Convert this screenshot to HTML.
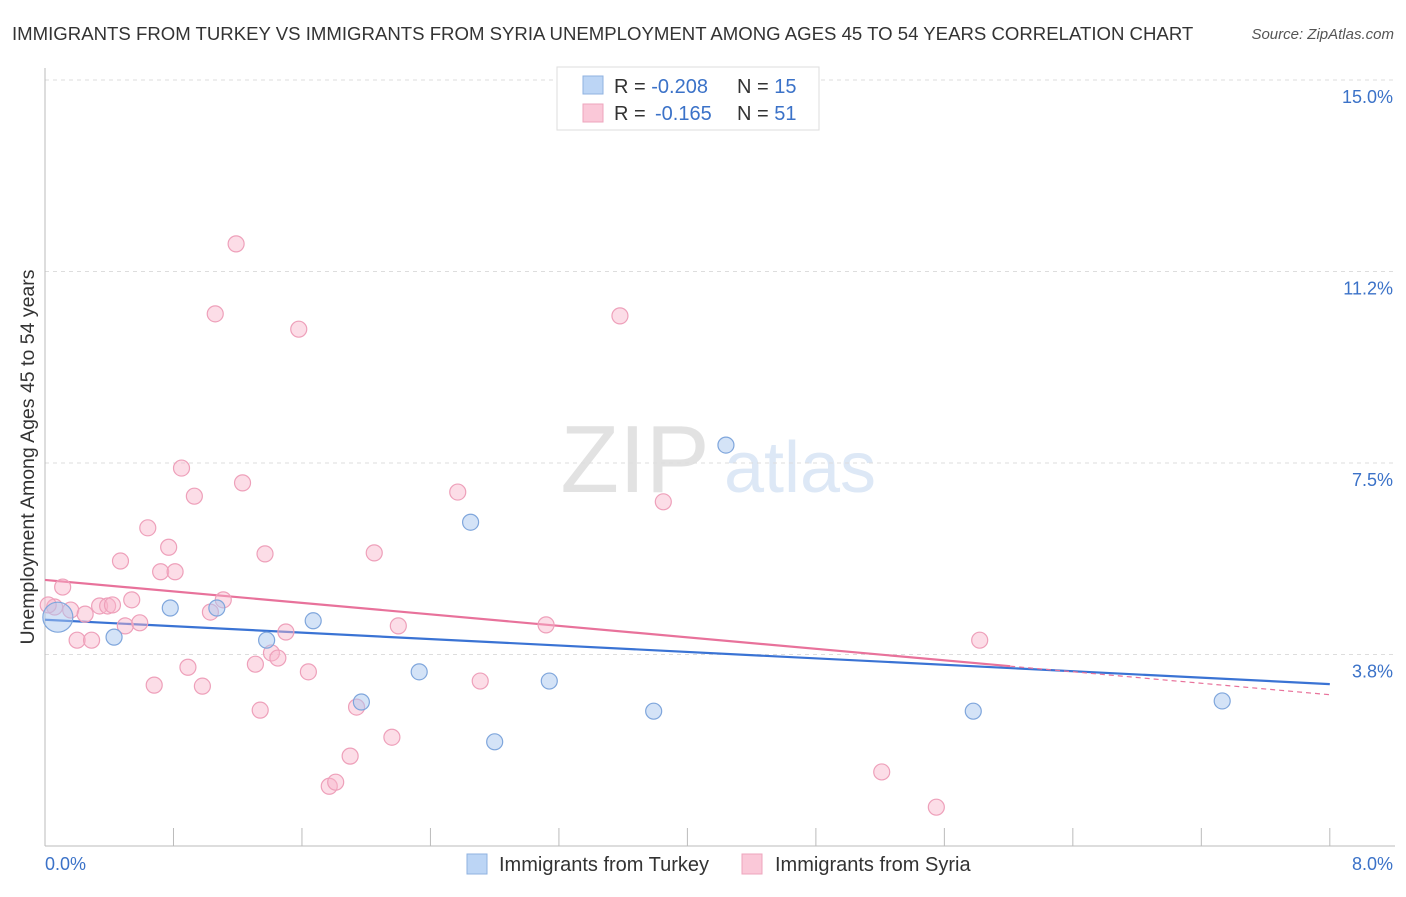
<!DOCTYPE html>
<html><head><meta charset="utf-8"><style>
body{margin:0;background:#fff;font-family:"Liberation Sans",sans-serif}
svg text{font-family:"Liberation Sans",sans-serif}
</style></head><body>
<svg id="c" width="1406" height="892">
<text x="12" y="40" font-size="18.6" fill="#333">IMMIGRANTS FROM TURKEY VS IMMIGRANTS FROM SYRIA UNEMPLOYMENT AMONG AGES 45 TO 54 YEARS CORRELATION CHART</text>
<text x="1394" y="39" font-size="15" fill="#555" font-style="italic" text-anchor="end">Source: ZipAtlas.com</text>
<text x="34" y="457" font-size="19.5" fill="#333" text-anchor="middle" transform="rotate(-90 34 457)">Unemployment Among Ages 45 to 54 years</text>
<g><text x="635" y="492" font-size="96" fill="#e2e2e2" font-family="Liberation Serif" text-anchor="middle">ZIP</text><text x="800" y="492" font-size="72" fill="#dde8f6" text-anchor="middle">atlas</text></g>
<g id="grid"></g><g id="axes"></g><g id="lines"></g><g id="pts"></g>
<g>
<rect x="557" y="67" width="262" height="63" fill="#fff" stroke="#ddd"/>
<rect x="583" y="76" width="20" height="18" fill="#bcd5f5" stroke="#8fb2e0"/>
<rect x="583" y="104" width="20" height="18" fill="#fac8d8" stroke="#eea5bd"/>
<text x="614" y="93" font-size="20" fill="#333">R = <tspan fill="#3b72c8">-0.208</tspan><tspan x="737">N = </tspan><tspan fill="#3b72c8">15</tspan></text>
<text x="614" y="120" font-size="20" fill="#333">R = <tspan x="655" fill="#3b72c8">-0.165</tspan><tspan x="737">N = </tspan><tspan fill="#3b72c8">51</tspan></text>
</g>
<g>
<rect x="467" y="854" width="20" height="20" fill="#bcd5f5" stroke="#8fb2e0"/>
<text x="499" y="871" font-size="20" fill="#333">Immigrants from Turkey</text>
<rect x="742" y="854" width="20" height="20" fill="#fac8d8" stroke="#eea5bd"/>
<text x="775" y="871" font-size="20" fill="#333">Immigrants from Syria</text>
</g>
</svg>
<script>
const yTicks=[15.0,11.25,7.5,3.75];
const yTickLabels=["15.0%","11.2%","7.5%","3.8%"];
const xTickLabels=["0.0%","8.0%"];
const turkeyX=[0.08,0.43,0.78,1.07,1.38,1.67,1.97,2.33,2.65,2.80,3.14,3.79,4.24,5.78,7.33];
const turkeyY=[4.48,4.09,4.66,4.66,4.03,4.41,2.82,3.41,6.34,2.04,3.23,2.64,7.85,2.64,2.84];
const syriaX=[0.06,0.11,0.16,0.20,0.25,0.29,0.34,0.39,0.42,0.47,0.50,0.54,0.59,0.64,0.68,0.72,0.77,0.81,0.85,0.89,0.93,0.98,1.03,1.06,1.11,1.19,1.23,1.31,1.34,1.37,1.41,1.45,1.50,1.58,1.64,1.77,1.81,1.90,1.94,2.05,2.16,2.20,2.57,2.71,3.12,3.58,3.85,5.21,5.55,5.82,0.02];
const syriaY=[4.68,5.07,4.62,4.03,4.54,4.03,4.70,4.70,4.72,5.58,4.31,4.82,4.37,6.23,3.15,5.37,5.85,5.37,7.40,3.50,6.85,3.13,4.58,10.42,4.82,11.79,7.11,3.56,2.66,5.72,3.78,3.68,4.19,10.12,3.41,1.17,1.25,1.76,2.72,5.74,2.13,4.31,6.93,3.23,4.33,10.38,6.74,1.45,0.76,4.03,4.72];
const turkeyTrend=[4.43,-0.1575];
const syriaTrend=[5.21,-0.281];
const NS="http://www.w3.org/2000/svg";
const X=v=>45+v*160.6, Y=v=>846-v*51.07;
function mk(p,t,a){const e=document.createElementNS(NS,t);for(const k in a)e.setAttribute(k,a[k]);document.getElementById(p).appendChild(e);return e;}
yTicks.forEach((t,i)=>{
 const g=mk('grid','line',{x1:45,x2:1395,y1:Y(t),y2:Y(t),stroke:'#ddd','stroke-dasharray':'4,4'});
 
 
 const l=mk('grid','text',{x:1393,y:Y(t)+23,'font-size':18,fill:'#3b72c8','text-anchor':'end'});
 l.textContent=yTickLabels[i];
 
 
});
const ax=mk('axes','line',{x1:45,x2:45,y1:68,y2:846,stroke:'#bbb'});


const bx=mk('axes','line',{x1:45,x2:1395,y1:846,y2:846,stroke:'#bbb'});


for(let i=1;i<=10;i++){const t=mk('axes','line',{x1:X(i*0.8),x2:X(i*0.8),y1:828,y2:846,stroke:'#bbb'});
 
 }
[[0,'start',45],[8,'end',1393]].forEach((d,i)=>{const t=mk('axes','text',{x:d[2],y:870,'font-size':18,fill:'#3b72c8','text-anchor':d[1]});t.textContent=xTickLabels[i];
 
 });
const f=(tr,v)=>tr[0]+tr[1]*v;
let l1=mk('lines','line',{x1:X(0),y1:Y(f(turkeyTrend,0)),x2:X(8),y2:Y(f(turkeyTrend,8)),stroke:'#3a73d4','stroke-width':2.2});


let l2=mk('lines','line',{x1:X(0),y1:Y(f(syriaTrend,0)),x2:X(6.01),y2:Y(f(syriaTrend,6.01)),stroke:'#e8729b','stroke-width':2.2});


let l3=mk('lines','line',{x1:X(6.01),y1:Y(f(syriaTrend,6.01)),x2:X(8),y2:Y(f(syriaTrend,8)),stroke:'#e8729b','stroke-width':1.2,'stroke-dasharray':'5,4'});


syriaX.forEach((v,i)=>{const c=mk('pts','circle',{cx:X(v),cy:Y(syriaY[i]),r:8,fill:'rgba(248,180,202,0.45)',stroke:'#eea0ba','stroke-width':1.2});
 
 });
turkeyX.forEach((v,i)=>{const c=mk('pts','circle',{cx:X(v),cy:Y(turkeyY[i]),r:i==0?15:8,fill:'rgba(170,200,240,0.5)',stroke:'#7fa6dc','stroke-width':1.2});
 
 });
</script>
</body></html>
